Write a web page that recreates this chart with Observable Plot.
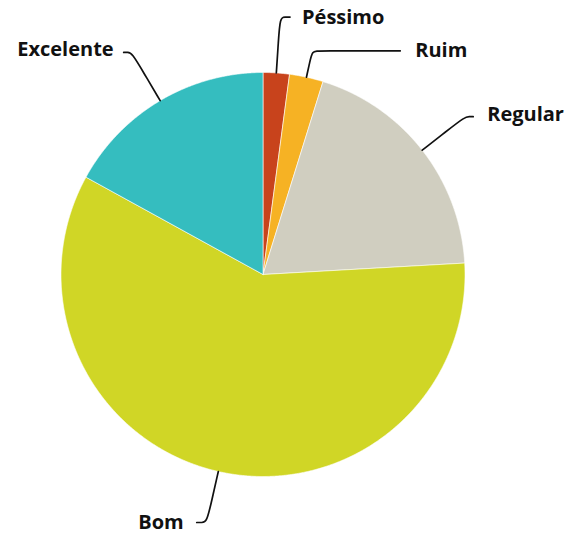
<!DOCTYPE html>
<html><head><meta charset="utf-8">
<script src="https://cdn.jsdelivr.net/npm/d3@7"></script>
<script src="https://cdn.jsdelivr.net/npm/@observablehq/plot@0.6"></script>
<style>html,body{margin:0;padding:0;background:#fff;overflow:hidden}</style>
</head><body><div id="chart"></div>
<script>
// ---- data ----
const categories = ["Péssimo", "Ruim", "Regular", "Bom", "Excelente"];
const values = [2.1, 2.7, 19.3, 58.9, 17.0];
const colors = ["#c8431c", "#f6b224", "#d0cec0", "#d0d626", "#35bdbf"];

// ---- label layout ----
const labelSide = ["right", "right", "right", "left", "left"];
const elbowRadius = [1.277, 1.134, 1.27, 1.259, 1.277];
const runLength = [10, 88, 8, 10, 8];
const labelGap = [12, 15, 14, 13, 10];
const labelDy = [0, 0, -2, 0, -3];

const W = 569, H = 538, R = 202, CX = 262.5, CY = 274;

const arcs = d3.pie().sort(null).value(d => d)(values);

// slice polygons (geometry of each arc, sampled finely)
const slicePts = [];
arcs.forEach((a, i) => {
  const label = categories[i];
  slicePts.push({label, x: 0, y: 0});
  const n = Math.max(2, Math.ceil((a.endAngle - a.startAngle) / (Math.PI / 720)));
  for (let k = 0; k <= n; k++) {
    const t = a.startAngle + (a.endAngle - a.startAngle) * k / n;
    slicePts.push({label, x: Math.sin(t), y: Math.cos(t)});
  }
  slicePts.push({label, x: 0, y: 0});
});

// leader lines and labels
const leaderPts = [];
const labelsRight = [], labelsLeft = [];
arcs.forEach((a, i) => {
  const label = categories[i];
  const m = (a.startAngle + a.endAngle) / 2;
  const s = Math.sin(m), c = Math.cos(m);
  const k = elbowRadius[i];
  const sign = labelSide[i] === "right" ? 1 : -1;
  const run = runLength[i] / R;
  const ex = s * k, ey = c * k;
  const pts = [
    [s * 1.0, c * 1.0],
    [s * (1 + 0.55 * (k - 1)), c * (1 + 0.55 * (k - 1))],
    [ex, ey],
    [ex + sign * Math.min(run, 12 / R) / 2, ey],
    [ex + sign * run, ey]
  ];
  pts.forEach(([x, y]) => leaderPts.push({label, x, y}));
  const lab = {label, x: ex + sign * (run + labelGap[i] / R), y: ey - labelDy[i] / R};
  (sign > 0 ? labelsRight : labelsLeft).push(lab);
});

const chart = Plot.plot({
  width: W, height: H,
  marginTop: 0, marginRight: 0, marginBottom: 0, marginLeft: 0,
  x: {domain: [-CX / R, (W - CX) / R], range: [0, W], axis: null},
  y: {domain: [-(H - CY) / R, CY / R], range: [H, 0], axis: null},
  color: {domain: categories, range: colors},
  style: {background: "#fff", fontFamily: "'Open Sans', sans-serif"},
  marks: [
    Plot.line(slicePts, {x: "x", y: "y", z: "label", fill: "label", stroke: "#fff", strokeWidth: 0.6, curve: "linear"}),
    Plot.line(leaderPts, {x: "x", y: "y", z: "label", stroke: "#111", strokeWidth: 1.7, curve: "basis"}),
    Plot.text(labelsRight, {x: "x", y: "y", text: "label", textAnchor: "start", fontSize: 20, fontWeight: 700, fill: "#111"}),
    Plot.text(labelsLeft, {x: "x", y: "y", text: "label", textAnchor: "end", fontSize: 20, fontWeight: 700, fill: "#111"})
  ]
});
document.getElementById("chart").appendChild(chart);
</script>
</body></html>
